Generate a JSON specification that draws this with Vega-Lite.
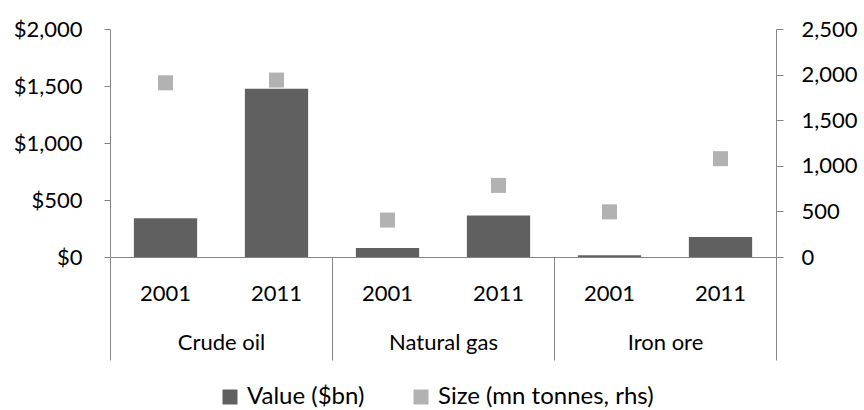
{
  "$schema": "https://vega.github.io/schema/vega-lite/v6.json",
  "width": 666,
  "height": 228,
  "autosize": {"type": "none"},
  "padding": {"left": 110, "top": 29, "right": 88, "bottom": 153},
  "background": "white",
  "config": {
    "view": {"stroke": null},
    "font": "Lato",
    "axis": {"labelFont": "Lato", "labelFontSize": 22, "labelColor": "#000000", "domainColor": "#868686", "tickColor": "#868686", "grid": false, "title": null},
    "legend": {"labelFont": "Lato", "labelFontSize": 24, "labelColor": "#000000", "labelLimit": 0}
  },
  "data": {
    "values": [
      {"group": "Crude oil", "year": "2001", "key": "Crude oil 2001", "value": 340, "size": 1910},
      {"group": "Crude oil", "year": "2011", "key": "Crude oil 2011", "value": 1475, "size": 1940},
      {"group": "Natural gas", "year": "2001", "key": "Natural gas 2001", "value": 80, "size": 405},
      {"group": "Natural gas", "year": "2011", "key": "Natural gas 2011", "value": 365, "size": 785},
      {"group": "Iron ore", "year": "2001", "key": "Iron ore 2001", "value": 15, "size": 495},
      {"group": "Iron ore", "year": "2011", "key": "Iron ore 2011", "value": 175, "size": 1078}
    ]
  },
  "layer": [
    {
      "mark": {"type": "point", "opacity": 0},
      "encoding": {
        "x": {
          "field": "group", "type": "nominal", "sort": null,
          "scale": {"type": "band", "paddingInner": 0, "paddingOuter": 0},
          "axis": {"orient": "bottom", "domain": false, "ticks": true, "tickBand": "extent", "tickSize": 103, "labelPadding": -28, "labelAngle": 0, "labelBaseline": "top"}
        }
      }
    },
    {
      "mark": {"type": "bar", "color": "#606060"},
      "encoding": {
        "x": {
          "field": "key", "type": "nominal", "sort": null,
          "scale": {"type": "band", "paddingInner": 0.43, "paddingOuter": 0.215},
          "axis": {"orient": "bottom", "ticks": false, "labelPadding": 26, "labelAngle": 0, "labelExpr": "substring(datum.label, length(datum.label) - 4)"}
        },
        "y": {
          "field": "value", "type": "quantitative",
          "scale": {"domain": [0, 2000], "nice": false},
          "axis": {"orient": "left", "values": [0, 500, 1000, 1500, 2000], "format": "$,.0f", "tickSize": 6, "labelPadding": 22}
        },
        "color": {"datum": "Value ($bn)", "type": "nominal",
          "scale": {"domain": ["Value ($bn)", "Size (mn tonnes, rhs)"], "range": ["#606060", "#B2B2B2"]},
          "legend": {"orient": "none", "legendX": 108, "legendY": 356, "direction": "horizontal", "title": null, "symbolType": "square", "symbolSize": 225, "symbolStrokeWidth": 0, "labelOffset": 5, "columnPadding": 44}
        }
      }
    },
    {
      "mark": {"type": "point", "shape": "square", "filled": true, "size": 225, "opacity": 1, "color": "#B2B2B2"},
      "encoding": {
        "x": {
          "field": "key", "type": "nominal", "sort": null,
          "scale": {"type": "band", "paddingInner": 0.43, "paddingOuter": 0.215},
          "axis": null
        },
        "y": {
          "field": "size", "type": "quantitative",
          "scale": {"domain": [0, 2500], "nice": false},
          "axis": {"orient": "right", "values": [0, 500, 1000, 1500, 2000, 2500], "format": ",.0f", "tickSize": 7, "labelPadding": 18}
        },
        "color": {"datum": "Size (mn tonnes, rhs)", "type": "nominal"}
      }
    }
  ],
  "resolve": {"scale": {"x": "independent", "y": "independent", "color": "shared"}}
}
